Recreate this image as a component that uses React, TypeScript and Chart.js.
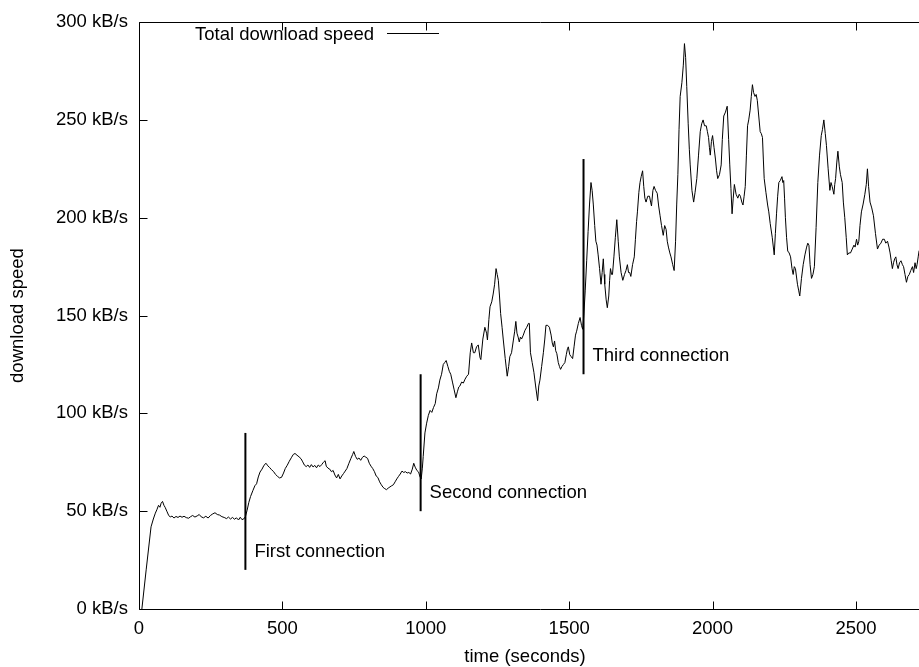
import React, { useEffect, useRef } from "react";
import { Chart, registerables } from "chart.js";

Chart.register(...registerables);

// ---- data ----
const timeSec = [
  10, 25, 42, 50, 57, 63, 68, 73, 77, 82,
  87, 91, 97, 103, 109, 115, 122, 129, 136, 143,
  150, 157, 165, 173, 180, 187, 195, 203, 210, 217,
  225, 233, 241, 249, 257, 265, 273, 281, 289, 297,
  305, 312, 319, 326, 333, 340, 347, 353, 359, 365,
  371, 377, 383, 389, 397, 404, 410, 416, 422, 429,
  436, 443, 449, 455, 462, 469, 476, 483, 490, 497,
  504, 510, 517, 524, 531, 538, 544, 551, 558, 565,
  571, 577, 583, 589, 595, 601, 607, 613, 619, 625,
  631, 637, 643, 649, 653, 659, 665, 671, 677, 683,
  689, 695, 701, 707, 713, 719, 725, 732, 739, 745,
  749, 755, 761, 767, 773, 779, 785, 791, 797, 803,
  809, 815, 821, 827, 833, 839, 845, 851, 857, 863,
  869, 875, 881, 887, 893, 899, 905, 911, 917, 923,
  929, 935, 941, 947, 953, 958, 963, 969, 975, 980,
  984, 988, 991, 997, 1003, 1009, 1015, 1021, 1027, 1033,
  1038, 1044, 1049, 1055, 1061, 1066, 1071, 1077, 1082, 1087,
  1093, 1099, 1105, 1110, 1115, 1119, 1125, 1131, 1137, 1143,
  1149, 1155, 1160, 1166, 1171, 1177, 1183, 1189, 1192, 1199,
  1206, 1212, 1215, 1220, 1224, 1230, 1235, 1240, 1245, 1249,
  1253, 1257, 1261, 1266, 1270, 1277, 1284, 1289, 1293, 1299,
  1305, 1310, 1314, 1318, 1322, 1326, 1330, 1334, 1340, 1346,
  1352, 1358, 1361, 1365, 1371, 1377, 1383, 1390, 1394, 1398,
  1404, 1410, 1415, 1419, 1425, 1431, 1437, 1441, 1445, 1449,
  1453, 1457, 1462, 1466, 1470, 1475, 1480, 1485, 1490, 1494,
  1497, 1502, 1507, 1512, 1517, 1522, 1526, 1532, 1538, 1543,
  1547, 1551, 1556, 1561, 1566, 1571, 1576, 1580, 1584, 1589,
  1593, 1597, 1601, 1606, 1611, 1615, 1619, 1622, 1624, 1629,
  1633, 1638, 1641, 1644, 1648, 1651, 1656, 1661, 1666, 1671,
  1675, 1681, 1687, 1693, 1698, 1703, 1707, 1711, 1715, 1721,
  1727, 1731, 1735, 1738, 1743, 1747, 1751, 1756, 1760, 1764,
  1768, 1774, 1780, 1784, 1787, 1792, 1796, 1801, 1807, 1812,
  1817, 1822, 1828, 1833, 1838, 1842, 1846, 1851, 1855, 1861,
  1866, 1871, 1875, 1879, 1883, 1887, 1893, 1898, 1902, 1906,
  1910, 1915, 1919, 1922, 1928, 1934, 1939, 1945, 1951, 1957,
  1962, 1967, 1972, 1978, 1982, 1986, 1989, 1992, 1996, 2000,
  2005, 2010, 2014, 2018, 2024, 2030, 2034, 2039, 2045, 2051,
  2056, 2060, 2064, 2068, 2072, 2076, 2082, 2088, 2093, 2097,
  2102, 2106, 2110, 2114, 2118, 2122, 2126, 2131, 2135, 2139,
  2143, 2148, 2152, 2156, 2161, 2166, 2170, 2174, 2177, 2180,
  2186, 2192, 2196, 2201, 2208, 2215, 2219, 2223, 2227, 2231,
  2236, 2242, 2245, 2248, 2251, 2254, 2258, 2262, 2267, 2272,
  2277, 2281, 2285, 2289, 2296, 2300, 2304, 2310, 2316, 2322,
  2328, 2332, 2336, 2340, 2345, 2350, 2355, 2361, 2367, 2373,
  2379, 2383, 2388, 2393, 2397, 2403, 2409, 2413, 2417, 2423,
  2426, 2429, 2433, 2437, 2442, 2446, 2452, 2456, 2461, 2466,
  2470, 2475, 2481, 2487, 2493, 2497, 2502, 2506, 2510, 2514,
  2519, 2525, 2531, 2536, 2540, 2544, 2549, 2555, 2561, 2568,
  2575, 2581, 2587, 2593, 2599, 2604, 2610, 2615, 2619, 2623,
  2627, 2631, 2635, 2639, 2643, 2647, 2652, 2657, 2662, 2666,
  2671, 2676, 2681, 2686, 2691, 2697, 2701, 2706, 2710, 2713,
  2717, 2720, 2724, 2728,
];

const speedKBs = [
  0, 20, 42, 46, 49, 51, 53, 52, 54, 55,
  53, 52, 50, 48, 47, 47.5, 46.5, 47.3, 46.8, 47.5,
  46.9, 47.4, 46.7, 46.4, 47.2, 47.8, 47.0, 47.6, 48.3, 47.1,
  46.6, 47.4, 46.5, 47.8, 48.6, 49.2, 48.3, 48.0, 47.2, 46.8,
  46.2, 47.0, 46.0, 46.8, 45.9, 46.6, 45.5, 46.9, 45.7, 46.0,
  47.2, 50.5, 54.5, 57.5, 60.5, 63.0, 64.0, 67.5, 70.0, 71.5,
  73.5, 74.5, 73.2, 72.4, 71.2, 70.3, 68.8, 67.8, 67.0, 67.3,
  69.5, 71.8, 73.5, 75.5, 77.3, 79.0, 79.5, 78.6, 77.8, 76.8,
  75.2, 73.5, 72.8, 73.6, 72.4, 73.8, 72.6, 73.4, 72.2, 73.6,
  72.8, 73.8, 75.0, 75.8, 73.0, 72.0, 71.5, 70.2, 70.8, 68.5,
  67.0, 68.8, 66.5, 68.0, 69.2, 70.5, 71.8, 74.5, 77.0, 79.0,
  80.5, 78.0, 76.5, 77.2, 76.0, 77.5, 78.2, 77.6, 77.0, 74.5,
  73.0, 71.8, 70.2, 68.0, 67.2, 65.0, 63.5, 62.2, 61.5, 61.0,
  61.8, 62.4, 63.0, 63.5, 65.0, 66.5, 67.8, 69.0, 70.5, 69.8,
  70.2, 69.5, 69.8, 69.0, 71.5, 74.5, 72.5, 70.8, 70.0, 67.5,
  66.5, 72, 78, 90, 95, 99, 101.5, 100.5, 103, 105,
  110, 113, 117, 120, 125, 126, 127, 124, 121.5, 120,
  116, 112, 108, 111, 113.5, 114, 116, 115.5, 117.5, 119,
  120, 131, 136, 131, 131, 134, 135, 128.5, 127.5, 138,
  144, 141, 137.5, 148, 154.5, 157, 161, 166, 174, 171,
  168, 160, 151, 144, 138, 128, 119, 124, 129, 131,
  137, 142, 147, 141, 139, 136.5, 139, 138, 140, 142.5,
  144, 146, 146, 131, 126, 121, 114, 106.5, 114, 117,
  124, 131, 138, 145, 145, 144, 140, 136, 134, 137,
  132, 130.5, 126, 124, 122.5, 124, 125, 126, 130, 133,
  134, 130, 129, 128, 134, 140, 142, 146, 149, 145,
  143, 150, 163, 178, 193, 207, 218, 214, 207, 196,
  188, 186, 181, 174, 166, 172, 179, 171, 166, 158,
  154, 160, 168, 174, 171, 171, 180, 190, 199, 188,
  180, 172, 168, 171, 173, 176, 172, 172, 170, 176,
  180, 189, 198, 203, 213, 218, 221, 224, 216, 210,
  208, 211, 211, 208, 206, 214, 216, 214, 212.5, 206,
  201, 196, 191, 196, 194, 188, 185, 182, 180, 176,
  173, 188, 207, 222, 245, 262, 269, 278, 289, 282,
  267, 248, 235, 227, 214, 208, 213, 220, 232, 244,
  248, 250, 247, 247, 244, 241, 236, 232, 239, 242,
  236, 230, 224, 220, 222, 227, 240, 252, 254, 257,
  240, 227, 215, 202, 210, 217, 212, 210, 212, 211,
  208, 206.5, 211, 216, 232, 247, 250, 255, 262, 268,
  264, 262, 263, 260, 252, 244, 243, 241, 230, 220,
  213, 206.5, 203, 197, 190, 181, 192, 202, 211, 218,
  219, 221, 218, 219, 210, 200, 190, 183, 182, 180,
  174, 171, 175, 174, 166, 163, 160, 169, 176, 181,
  185, 187, 186, 176, 169, 171, 175, 195, 218, 232,
  242, 245, 250, 243, 237, 225, 214, 218, 216, 212,
  217, 220, 228, 234, 226, 222, 218, 208, 200, 190,
  181, 182, 182, 184, 186, 185, 189, 186, 188, 196,
  203, 207, 212, 217, 225, 216, 208, 205, 201, 192,
  184, 186, 187, 189, 189, 187, 188, 185, 182, 178,
  174, 177, 179, 180, 176, 174, 177, 178, 176, 175,
  171, 167, 170, 171, 173, 175, 172, 177, 174, 176,
  180, 183, 184, 185,
];

const xTicks = [0, 500, 1000, 1500, 2000, 2500];
const yTicks = [0, 50, 100, 150, 200, 250, 300];
const xRange = [0, 2800];
const yRange = [0, 300];

const connectionTimes = [371, 982, 1550];
const connectionLow = [20, 50, 120];
const connectionHigh = [90, 120, 230];
const connectionLabelY = [30, 60, 130];
const connectionLabels = ["First connection", "Second connection", "Third connection"];

const seriesLabel = "Total download speed";
const xTitle = "time (seconds)";
const yTitle = "download speed";
const yUnit = "kB/s";

// ---- styling ----
const FAMILY = "'Liberation Sans', Arial, Helvetica, sans-serif";
const SIZE = 18.5;
const CSS_FONT = `${SIZE}px ${FAMILY}`;
const TICK_LEN = 8;

const gnuplotFrame = {
  id: "gnuplotFrame",
  afterDatasetsDraw(chart: any) {
    const { ctx, chartArea: a, scales } = chart;
    const xs = scales.x;
    const ys = scales.y;
    ctx.save();
    ctx.strokeStyle = "#000";
    ctx.lineWidth = 1;
    const L = Math.floor(a.left) + 0.5;
    const T = Math.floor(a.top) + 0.5;
    const B = Math.floor(a.bottom) + 0.5;
    const R = Math.floor(a.right) - 0.5;
    ctx.beginPath();
    ctx.rect(L, T, R - L, B - T);
    ctx.stroke();
    ctx.beginPath();
    xTicks.forEach((v) => {
      const px = Math.round(xs.getPixelForValue(v)) + 0.5;
      ctx.moveTo(px, B);
      ctx.lineTo(px, B - TICK_LEN);
      ctx.moveTo(px, T);
      ctx.lineTo(px, T + TICK_LEN);
    });
    yTicks.forEach((v) => {
      const py = Math.round(ys.getPixelForValue(v)) + 0.5;
      ctx.moveTo(L, py);
      ctx.lineTo(L + TICK_LEN, py);
      ctx.moveTo(R, py);
      ctx.lineTo(R - TICK_LEN, py);
    });
    ctx.stroke();

    // connection labels
    ctx.fillStyle = "#000";
    ctx.font = CSS_FONT;
    ctx.textAlign = "left";
    ctx.textBaseline = "alphabetic";
    connectionLabels.forEach((txt, i) => {
      const px = xs.getPixelForValue(connectionTimes[i]) + 9;
      const py = ys.getPixelForValue(connectionLabelY[i]) + 6.6;
      ctx.fillText(txt, px, py);
    });

    // key (text then line sample, gnuplot style)
    ctx.textAlign = "right";
    ctx.fillText(seriesLabel, 374, 40);
    ctx.beginPath();
    ctx.moveTo(387, 33.5);
    ctx.lineTo(439, 33.5);
    ctx.stroke();

    // x axis title
    ctx.textAlign = "center";
    ctx.fillText(xTitle, 525, 662);
    ctx.restore();
  },
};

export default function App() {
  const canvasRef = useRef<HTMLCanvasElement | null>(null);

  useEffect(() => {
    const canvas = canvasRef.current;
    if (!canvas) return;
    const mainData = timeSec.map((t, i) => ({ x: t, y: speedKBs[i] }));
    const connectionSets = connectionTimes.map((t, i) => ({
      label: connectionLabels[i],
      data: [
        { x: t, y: connectionLow[i] },
        { x: t, y: connectionHigh[i] },
      ],
      borderColor: "#000",
      borderWidth: 2,
      pointRadius: 0,
      fill: false,
    }));
    const font = { family: FAMILY, size: SIZE };
    const chart = new Chart(canvas, {
      type: "line",
      data: {
        datasets: [
          {
            label: seriesLabel,
            data: mainData,
            borderColor: "#000",
            borderWidth: 1,
            pointRadius: 0,
            tension: 0,
            fill: false,
          },
          ...connectionSets,
        ],
      },
      options: {
        animation: false,
        responsive: false,
        maintainAspectRatio: false,
        parsing: true,
        layout: { padding: { top: 15, left: 0, right: 0, bottom: 0 } },
        plugins: {
          legend: { display: false },
          tooltip: { enabled: false },
          title: { display: false },
        },
        scales: {
          x: {
            type: "linear",
            min: xRange[0],
            max: xRange[1],
            afterBuildTicks: (s: any) => {
              s.ticks = xTicks.map((v) => ({ value: v }));
            },
            afterFit: (s: any) => {
              s.height = 58;
            },
            grid: { display: false, drawTicks: false },
            border: { display: false },
            ticks: {
              font,
              color: "#000",
              padding: 9,
              maxRotation: 0,
              autoSkip: false,
              callback: (v: any) => String(v),
            },
          },
          y: {
            type: "linear",
            min: yRange[0],
            max: yRange[1],
            afterBuildTicks: (s: any) => {
              s.ticks = yTicks.map((v) => ({ value: v }));
            },
            afterFit: (s: any) => {
              s.width = 139;
            },
            grid: { display: false, drawTicks: false },
            border: { display: false },
            ticks: {
              font,
              color: "#000",
              padding: 11,
              autoSkip: false,
              callback: (v: any) => `${v} ${yUnit}`,
            },
            title: {
              display: true,
              text: yTitle,
              font,
              color: "#000",
              padding: { top: 7, bottom: 0 },
            },
          },
        },
      },
      plugins: [gnuplotFrame],
    });
    return () => chart.destroy();
  }, []);

  return (
    <div
      style={{
        position: "fixed",
        left: 0,
        top: 0,
        width: 919,
        height: 667,
        overflow: "hidden",
        background: "#fff",
      }}
    >
      <canvas ref={canvasRef} width={942} height={667} style={{ display: "block" }} />
    </div>
  );
}
